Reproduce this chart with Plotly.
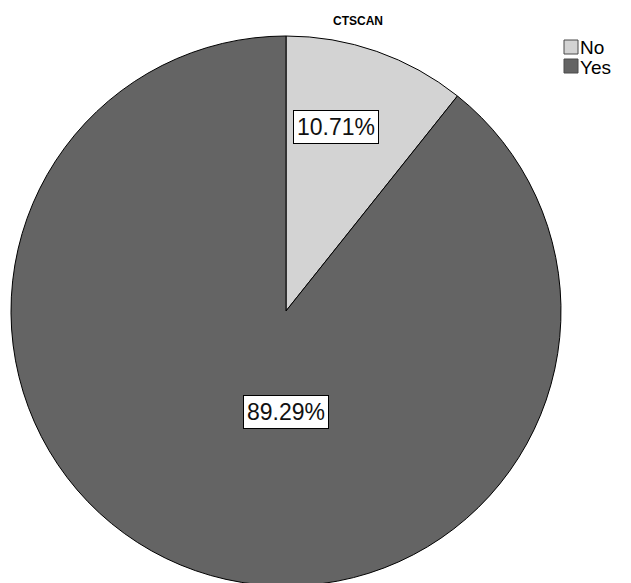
import plotly.graph_objects as go

# CT scan outcome counts
categories = ["No", "Yes"]
counts = [3, 25]
slice_colors = ["#d3d3d3", "#646464"]

W, H = 631, 600  # figure taller than the window so the pie runs off the bottom edge

# pie circle geometry in pixels (from top-left)
cx, cy, r = 286, 311, 275

total = sum(counts)
pct_text = [f"{c / total * 100:.2f}%" for c in counts]


def px_x(x):
    return x / W


def px_y(y):
    return 1 - y / H


fig = go.Figure(
    go.Pie(
        labels=categories,
        values=counts,
        sort=False,
        direction="clockwise",
        rotation=0,
        marker=dict(colors=slice_colors, line=dict(color="#000000", width=1)),
        textinfo="none",
        hoverinfo="label+percent",
        showlegend=False,
        domain=dict(
            x=[px_x(cx - r), px_x(cx + r)],
            y=[px_y(cy + r), px_y(cy - r)],
        ),
    )
)

FONT = "Liberation Sans, Arial, sans-serif"

# percentage labels in white boxes
label_pos = [(336, 127), (286, 412)]
annotations = []
for txt, (lx, ly) in zip(pct_text, label_pos):
    annotations.append(
        dict(
            text=txt,
            x=px_x(lx),
            y=px_y(ly),
            xref="paper",
            yref="paper",
            xanchor="center",
            yanchor="middle",
            showarrow=False,
            font=dict(family=FONT, size=23, color="#111111"),
            bgcolor="#ffffff",
            bordercolor="#000000",
            borderwidth=1,
            borderpad=3,
        )
    )

# chart title
annotations.append(
    dict(
        text="<b>CTSCAN</b>",
        x=px_x(331),
        y=px_y(21),
        xref="paper",
        yref="paper",
        xanchor="left",
        yanchor="middle",
        showarrow=False,
        font=dict(family=FONT, size=12, color="#000000"),
    )
)

# legend: colour swatches with category names
shapes = []
for i, (cat, col) in enumerate(zip(categories, slice_colors)):
    top = 40 + 19 * i
    shapes.append(
        dict(
            type="rect",
            xref="paper",
            yref="paper",
            x0=px_x(564),
            x1=px_x(578),
            y0=px_y(top + 14),
            y1=px_y(top),
            fillcolor=col,
            line=dict(color="#4a4a4a", width=1),
        )
    )
    annotations.append(
        dict(
            text=cat,
            x=px_x(578),
            y=px_y(top + 8),
            xref="paper",
            yref="paper",
            xanchor="left",
            yanchor="middle",
            showarrow=False,
            font=dict(family=FONT, size=19, color="#000000"),
        )
    )

fig.update_layout(
    width=W,
    height=H,
    margin=dict(l=0, r=0, t=0, b=0),
    paper_bgcolor="#ffffff",
    plot_bgcolor="#ffffff",
    showlegend=False,
    annotations=annotations,
    shapes=shapes,
)

fig.write_html("out.html")
